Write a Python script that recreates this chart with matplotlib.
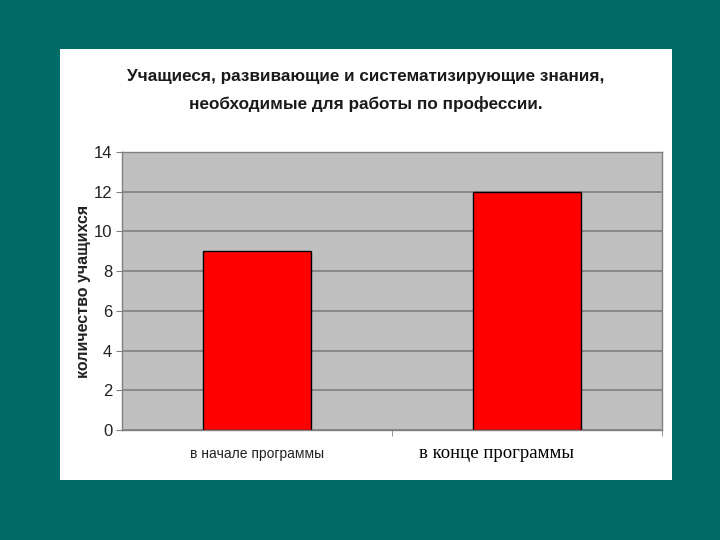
"""Bar chart: students before / after the programme."""
import matplotlib
matplotlib.use("Agg")
import matplotlib.pyplot as plt
import matplotlib.transforms as mtransforms
from matplotlib.patches import Rectangle

plt.rcParams["font.family"] = ["Liberation Sans", "DejaVu Sans"]

categories = ["в начале программы", "в конце программы"]
values = [9, 12]
y_ticks = [0, 2, 4, 6, 8, 10, 12, 14]

title = ("Учащиеся, развивающие и систематизирующие знания,\n"
         "необходимые для работы по профессии.")
y_label = "количество учащихся"

fig = plt.figure(figsize=(7.2, 5.4), dpi=100)
fig.patch.set_facecolor("#006B67")

# white chart panel on the slide
fig.patches.append(Rectangle((0.083, 0.111), 0.851, 0.798, transform=fig.transFigure,
                             facecolor="white", edgecolor="none", zorder=-5))

ax = fig.add_axes([0.1694, 0.2037, 0.75, 0.5148])
ax.set_zorder(2)
ax.set_facecolor("#C0C0C0")
ax.set_axisbelow(True)

x = list(range(len(categories)))
ax.bar(x, values, width=0.4, color="#FF0000", edgecolor="black", linewidth=1.0)

ax.set_xlim(-0.5, len(categories) - 0.5)
ax.set_ylim(0, 14)
ax.set_yticks(y_ticks)
ax.yaxis.grid(True, color="#808080", linewidth=1.2)

for side in ["left", "bottom", "top", "right"]:
    ax.spines[side].set_color("#808080")
    ax.spines[side].set_linewidth(1.0)

ax.tick_params(axis="y", length=4, color="#808080", labelsize=12, pad=3, labelcolor="#222222")
ax.set_xticks(x)
ax.set_xticklabels(categories)
ax.tick_params(axis="x", length=0, pad=12, labelsize=10, labelcolor="#222222")
# minor ticks at category boundaries
ax.set_xticks([0.5, 1.5], minor=True)
ax.tick_params(axis="x", which="minor", length=4, color="#808080")

labels = ax.get_xticklabels()
labels[1].set_fontfamily("Liberation Serif")
labels[1].set_fontsize(13.5)
labels[1].set_color("black")
labels[1].set_transform(labels[1].get_transform()
                        + mtransforms.ScaledTranslation(-0.30, 0.02, fig.dpi_scale_trans))

ax.set_ylabel(y_label, fontsize=11.5, fontweight="bold", color="#222222")
ax.yaxis.set_label_coords(-0.058, 0.5)

fig.text(0.508, 0.832, title, ha="center", va="center", fontsize=12.3,
         fontweight="bold", linespacing=1.95, color="#1a1a1a")

plt.savefig("out.png", dpi=100, facecolor=fig.get_facecolor())
plt.close()
